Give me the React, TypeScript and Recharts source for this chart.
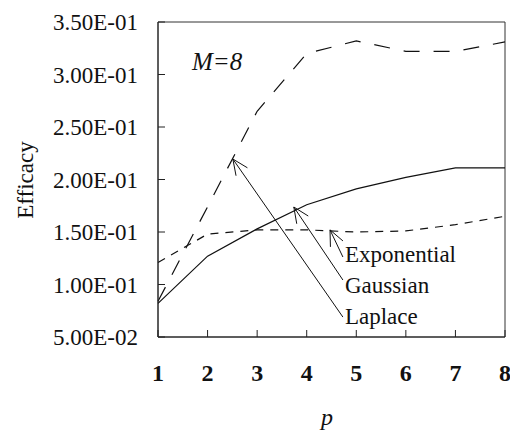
import React from 'react';
import {
  LineChart,
  Line,
  XAxis,
  YAxis,
  ReferenceArea,
  ReferenceLine,
  ReferenceDot,
} from 'recharts';

const P = [1, 2, 3, 4, 5, 6, 7, 8];
const LAPLACE = [0.084, 0.174, 0.265, 0.32, 0.332, 0.322, 0.322, 0.331];
const GAUSSIAN = [0.082, 0.127, 0.153, 0.176, 0.191, 0.202, 0.211, 0.211];
const EXPONENTIAL = [0.121, 0.148, 0.152, 0.152, 0.15, 0.151, 0.157, 0.165];
const Y_TICKS = [0.05, 0.1, 0.15, 0.2, 0.25, 0.3, 0.35];

// annotation labels and arrows, in data units
const LABELS = [
  { text: 'Exponential', x: 4.77, y: 0.1214 },
  { text: 'Gaussian', x: 4.77, y: 0.0919 },
  { text: 'Laplace', x: 4.77, y: 0.0624 },
];
const ARROWS = [
  { from: [4.73, 0.1262], to: [4.47, 0.152] },
  { from: [4.73, 0.1043], to: [3.74, 0.1738] },
  { from: [4.73, 0.069], to: [2.51, 0.2195] },
];

const FONT = 'Liberation Serif, serif';
const txt = (size: number, extra: any = {}) => ({
  fontFamily: FONT,
  fontSize: `${size}px`,
  fill: '#111',
  ...extra,
});

const data = P.map((p, i) => ({
  p,
  laplace: LAPLACE[i],
  gaussian: GAUSSIAN[i],
  exponential: EXPONENTIAL[i],
}));

const sci = (v: number) => {
  const [m, e] = v.toExponential(2).split('e');
  const n = Math.abs(parseInt(e, 10));
  const sign = e.startsWith('-') ? '-' : '+';
  return `${m}E${sign}${n < 10 ? '0' + n : n}`;
};

const YTick = ({ x, y, payload }: any) => (
  <g>
    <line x1={x} y1={y} x2={x + 7} y2={y} stroke="#222" />
    <text x={x - 20} y={y} dy="0.35em" textAnchor="end" style={txt(23)}>
      {sci(payload.value)}
    </text>
  </g>
);

const XTick = ({ x, y, payload }: any) => (
  <g>
    <line x1={x} y1={y} x2={x} y2={y - 7} stroke="#222" />
    <text
      x={x}
      y={y + 44}
      textAnchor="middle"
      style={txt(24, { fontWeight: 'bold' })}
    >
      {payload.value}
    </text>
  </g>
);

const Arrow = ({ x1, y1, x2, y2 }: any) => {
  const a = Math.atan2(y1 - y2, x1 - x2);
  const len = 17;
  const spread = 0.42;
  const w1 = [x2 + len * Math.cos(a + spread), y2 + len * Math.sin(a + spread)];
  const w2 = [x2 + len * Math.cos(a - spread), y2 + len * Math.sin(a - spread)];
  return (
    <g stroke="#111" strokeWidth={1} fill="none">
      <line x1={x1} y1={y1} x2={x2} y2={y2} />
      <polyline points={`${w1[0]},${w1[1]} ${x2},${y2} ${w2[0]},${w2[1]}`} />
    </g>
  );
};

const labelShape = (text: string, italic = false, size = 23) => (props: any) => (
  <text
    x={props.cx}
    y={props.cy}
    style={txt(size, { fontStyle: italic ? 'italic' : 'normal' })}
  >
    {text}
  </text>
);

export default function App() {
  return (
    <div style={{ position: 'absolute', left: 0, top: 0, background: '#fff' }}>
      <LineChart
        width={510}
        height={433}
        data={data}
        margin={{ top: 22, right: 5, bottom: 0, left: 0 }}
      >
        <XAxis
          dataKey="p"
          type="number"
          domain={[1, 8]}
          ticks={P}
          height={96}
          axisLine={{ stroke: '#222' }}
          tickLine={false}
          tickSize={0}
          tickMargin={0}
          tick={<XTick />}
          label={{
            content: () => (
              <text x={321} y={425} style={txt(24, { fontStyle: 'italic' })}>
                p
              </text>
            ),
          }}
        />
        <YAxis
          type="number"
          domain={[0.05, 0.35]}
          ticks={Y_TICKS}
          width={158}
          axisLine={{ stroke: '#222' }}
          tickLine={false}
          tickSize={0}
          tickMargin={0}
          tick={<YTick />}
          label={{
            content: () => (
              <text
                x={33}
                y={180}
                transform="rotate(-90 33 180)"
                textAnchor="middle"
                style={txt(23)}
              >
                Efficacy
              </text>
            ),
          }}
        />
        <ReferenceArea
          x1={1}
          x2={8}
          y1={0.05}
          y2={0.35}
          fill="none"
          stroke="#333"
          strokeWidth={1}
        />
        <Line
          dataKey="laplace"
          stroke="#111"
          strokeWidth={1.2}
          strokeDasharray="16 14"
          dot={false}
          isAnimationActive={false}
        />
        <Line
          dataKey="gaussian"
          stroke="#111"
          strokeWidth={1.2}
          dot={false}
          isAnimationActive={false}
        />
        <Line
          dataKey="exponential"
          stroke="#111"
          strokeWidth={1.2}
          strokeDasharray="8 7"
          dot={false}
          isAnimationActive={false}
        />
        {ARROWS.map((a, i) => (
          <ReferenceLine
            key={`arrow-${i}`}
            segment={[
              { x: a.from[0], y: a.from[1] },
              { x: a.to[0], y: a.to[1] },
            ]}
            shape={<Arrow />}
          />
        ))}
        {LABELS.map((l) => (
          <ReferenceDot
            key={l.text}
            x={l.x}
            y={l.y}
            r={0}
            shape={labelShape(l.text)}
          />
        ))}
        <ReferenceDot
          x={1.686}
          y={0.3043}
          r={0}
          shape={labelShape('M=8', true, 25)}
        />
      </LineChart>
    </div>
  );
}
